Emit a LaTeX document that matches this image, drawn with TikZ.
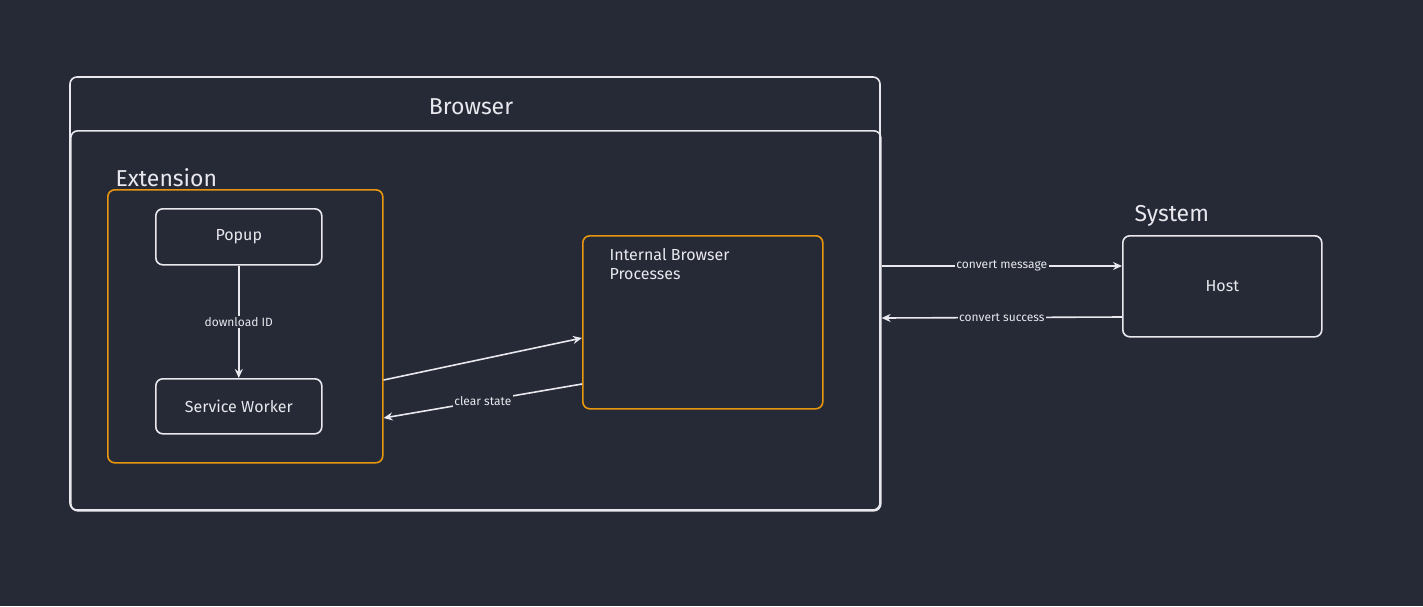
\documentclass[tikz,border=0pt]{standalone}
\usepackage{fontspec}
\setmainfont{Fira Sans}
\usetikzlibrary{arrows.meta}
\definecolor{bg}{HTML}{262A36}
\definecolor{ln}{HTML}{E8E8EE}
\definecolor{org}{HTML}{E8960F}
\tikzset{
 box/.style={draw=ln, line width=1.6pt, rounded corners=7pt},
 obox/.style={draw=org, line width=1.6pt, rounded corners=7pt},
 txt/.style={text=ln, font=\fontsize{16}{19}\selectfont},
 big/.style={text=ln, font=\fontsize{23}{26}\selectfont},
 lbl/.style={text=ln, fill=bg, inner sep=1.5pt, font=\fontsize{12}{14}\selectfont},
 arr/.style={draw=ln, line width=1.6pt, -{Stealth[length=9pt,width=8pt]}}
}
\begin{document}
\begin{tikzpicture}[x=1pt,y=-1pt]
\fill[bg] (0,0) rectangle (1423,606);
\useasboundingbox (0,0) rectangle (1423,606);
% Browser
\draw[box] (70,77) rectangle (880,510);
\node[box, minimum width=810pt, minimum height=380pt, anchor=north west] (browser) at (70,130) {};
\node[big] (btitle) at (471,107) {Browser};
% Extension
\node[big, anchor=west] (extl) at (112,178) {Extension};
\node[obox, minimum width=275pt, minimum height=273pt, anchor=north west] (ext) at (107,189) {};
\node[box, txt, minimum width=166pt, minimum height=56pt, anchor=north west] (popup) at (155,208) {Popup};
\node[box, txt, minimum width=166pt, minimum height=55pt, anchor=north west] (sw) at (155,378) {Service Worker};
\draw[arr] (popup.south) -- node[lbl]{download ID} (sw.north);
% Internal
\node[obox, minimum width=240pt, minimum height=173pt, anchor=north west] (ibp) at (582,235) {};
\node[txt, anchor=north west, align=left] (ibpt) at (606,245) {Internal Browser\\Processes};
\draw[arr] (ext.east |- 0,380) coordinate (e1) -- (ibp.west |- 0,338);
\draw[arr] (ibp.west |- 0,384) -- node[lbl, pos=0.5]{clear state} (ext.east |- 0,418);
% System
\node[big, anchor=west] (sysl) at (1131,216) {System};
\node[box, txt, minimum width=199pt, minimum height=101pt, anchor=north west] (host) at (1122,235) {Host};
\draw[arr] (browser.east |- 0,266) -- node[lbl]{convert message} (host.west |- 0,266);
\draw[arr] (host.west |- 0,317) -- node[lbl]{convert success} (browser.east |- 0,318);
\end{tikzpicture}
\end{document}
